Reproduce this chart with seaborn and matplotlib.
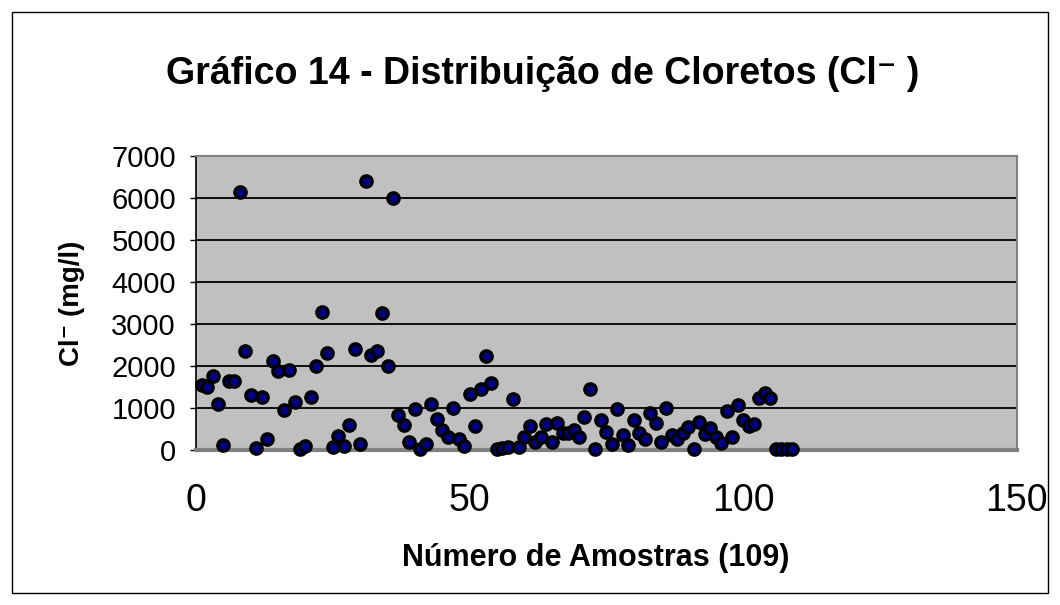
import matplotlib
matplotlib.use("Agg")
import matplotlib.pyplot as plt
from matplotlib.patches import Rectangle
import pandas as pd
import seaborn as sns

# ── Data (sample number vs chloride, mg/l) ──
amostra = list(range(1, 110))
cloreto = [1548, 1507, 1762, 1095, 119, 1651, 1635, 6136, 2357, 1317,
           48, 1262, 262, 2127, 1881, 952, 1905, 1151, 24, 103,
           1270, 2008, 3294, 2302, 63, 341, 95, 587, 2405, 143,
           6412, 2262, 2365, 3254, 2008, 6008, 833, 587, 198, 968,
           24, 135, 1103, 746, 476, 317, 1008, 254, 103, 1325,
           563, 1460, 2238, 1587, 24, 40, 79, 1214, 79, 317,
           579, 183, 317, 611, 183, 651, 397, 397, 476, 302,
           778, 1460, 16, 714, 437, 143, 968, 365, 119, 714,
           413, 254, 889, 651, 198, 1008, 357, 254, 397, 540,
           32, 659, 381, 516, 302, 175, 937, 317, 1079, 714,
           571, 611, 1230, 1365, 1230, 25, 25, 25, 25]
x_ticks = [0, 50, 100, 150]
y_ticks = [0, 1000, 2000, 3000, 4000, 5000, 6000, 7000]

TITLE = "Gráfico 14 - Distribuição de Cloretos (Cl\u207b )"
XLABEL = "Número de Amostras (109)"
YLABEL = "Cl\u207b (mg/l)"

sns.set_style("white")
plt.rcParams['font.family'] = ['Liberation Sans', 'DejaVu Sans']
plt.rcParams['text.color'] = 'black'
plt.rcParams['axes.labelcolor'] = 'black'
plt.rcParams['xtick.color'] = 'black'
plt.rcParams['ytick.color'] = 'black'

df = pd.DataFrame({'amostra': amostra, 'cloreto': cloreto})

fig = plt.figure(figsize=(10.6, 6.05), dpi=100)
ax = fig.add_axes([0.185, 0.256, 0.774, 0.486])
ax.set_facecolor('#C0C0C0')

for yv in y_ticks[1:]:
    ax.axhline(yv, color='black', lw=1.3, zorder=1)

sns.scatterplot(data=df, x='amostra', y='cloreto', ax=ax,
                s=68, color='#000080', edgecolor='black', linewidth=2.3,
                zorder=3, clip_on=False)

ax.set_xlim(0, 150)
ax.set_ylim(0, 7000)
ax.set_xticks(x_ticks)
ax.set_yticks(y_ticks)
ax.tick_params(axis='x', length=0, pad=24, labelsize=27, labelcolor='black')
ax.tick_params(axis='y', length=4.5, width=1, color='black', direction='out',
               left=True, pad=10, labelsize=21, labelcolor='black')

for side in ['top', 'right']:
    ax.spines[side].set_color('#808080')
    ax.spines[side].set_linewidth(1.5)
ax.spines['bottom'].set_color('#808080')
ax.spines['bottom'].set_linewidth(3)
ax.spines['left'].set_color('black')
ax.spines['left'].set_linewidth(1.2)

ax.set_xlabel(XLABEL, fontsize=22, fontweight='bold')
ax.xaxis.set_label_coords(0.487, -0.315)
ax.set_ylabel(YLABEL, fontsize=20, fontweight='bold')
ax.yaxis.set_label_coords(-0.136, 0.5)
fig.text(0.512, 0.877, TITLE, ha='center', va='center',
         fontsize=27, fontweight='bold')

# outer chart border
fig.patches.append(Rectangle((0.011, 0.02), 0.978, 0.96, transform=fig.transFigure,
                             fill=False, edgecolor='black', lw=1))

fig.savefig('out.png', dpi=100)
